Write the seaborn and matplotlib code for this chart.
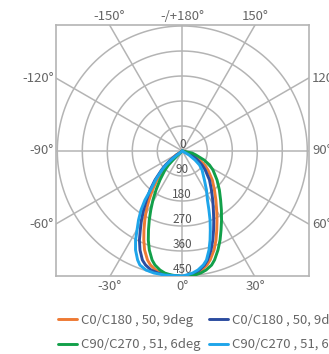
import numpy as np
import pandas as pd
import matplotlib
matplotlib.use("Agg")
import matplotlib.pyplot as plt
import seaborn as sns

sns.set_theme(style="white")
plt.rcParams['font.family'] = ['Noto Sans CJK SC', 'DejaVu Sans']

# ---- data (angle in degrees, 0 = downward; intensity in cd) ----
orange_ang = [-90, -57.6, -51.5, -48.5, -45.5, -41.1, -37.4, -34.2, -31.4, -28.5, -25.9, -23.4, -20.9, -17.7, -15.6,
              -12.7, -9.9, -6.6, 0, 4.0, 6.9, 9.4, 12.2, 14.3, 17.8, 20.7, 23.6, 26.7, 30.2, 34.4, 39.5, 46.0, 53.5,
              57.8, 62.4, 69.5, 73.4, 90]
orange_val = [0, 27, 52, 76, 97, 139, 177, 213, 249, 283, 316, 349, 381, 412, 426,
              439, 446, 449, 452, 447, 442, 434, 420, 405, 374, 343, 310, 278, 246, 214, 182, 150, 115,
              94, 70, 41, 25, 0]

blue_ang = [-90, -55.4, -52.7, -50.2, -47.6, -43.3, -39.6, -36.2, -33.3, -30.6, -28.0, -25.7, -23.1, -20.1, -17.9,
            -14.7, -11.3, -7.5, 0, 3.1, 5.9, 8.2, 11.0, 13.0, 16.2, 18.9, 21.6, 24.5, 27.8, 31.8, 36.8, 43.2, 50.4,
            54.6, 59.4, 67.6, 70.7, 90]
blue_val = [0, 25, 53, 79, 101, 143, 182, 218, 254, 289, 322, 356, 388, 418, 431,
            443, 448, 450, 451, 447, 442, 433, 418, 403, 371, 339, 306, 273, 240, 208, 175, 143, 107,
            87, 64, 38, 22, 0]

green_ang = [-90, -47.1, -45.9, -44.6, -42.3, -37.6, -34.0, -30.9, -28.1, -25.6, -23.2, -20.9, -18.4, -15.5, -13.5,
             -10.6, -8.1, -5.2, 0, 2.1, 5.8, 8.7, 11.3, 14.4, 16.5, 19.8, 23.0, 26.1, 29.6, 33.5, 38.0, 43.5, 50.1,
             58.2, 62.8, 67.5, 73.7, 78.3, 90]
green_val = [0, 21, 47, 71, 93, 132, 169, 206, 241, 275, 309, 343, 376, 407, 422,
             436, 444, 448, 452, 454, 449, 444, 437, 424, 409, 379, 348, 317, 286, 255, 224, 194, 163,
             130, 110, 85, 51, 36, 0]

cyan_ang = [-90, -53.0, -51.5, -49.3, -46.9, -42.7, -39.2, -37.3, -35.0, -32.4, -29.8, -27.7, -25.3, -22.3, -20.4,
            -17.0, -13.1, -7.9, 0, 1.7, 4.8, 7.5, 10.5, 12.5, 15.1, 17.3, 19.5, 21.9, 24.3, 27.2, 31.8, 37.4, 46.0,
            50.9, 54.7, 59.2, 90]
cyan_val = [0, 24, 52, 77, 100, 142, 181, 222, 259, 294, 328, 362, 394, 424, 438,
            448, 451, 451, 450, 447, 441, 432, 417, 402, 369, 336, 302, 268, 233, 198, 165, 131, 99,
            80, 56, 28, 0]

series_labels = ["C0/C180 , 50, 9deg", "C0/C180 , 50, 9deg",
                 "C90/C270 , 51, 6deg", "C90/C270 , 51, 6deg"]
series_colors = ["#ee7a34", "#2b4c9f", "#12a04a", "#1ea5ea"]

ring_values = [90, 180, 270, 360, 450]
ring_labels = ["0", "90", "180", "270", "360", "450"]
spoke_angles = list(range(-180, 180, 30))

top_labels = ["-150°", "-/+180°", "150°"]
side_left_labels = ["-120°", "-90°", "-60°"]
side_right_labels = ["120°", "90°", "60°"]
bottom_labels = ["-30°", "0°", "30°"]

# ---- figure ----
W, H = 329, 354
fig = plt.figure(figsize=(W / 100, H / 100), dpi=100)
px = 450 / 125.0  # data units per pixel
cx, cy = 182.3, 151.0
left_px, right_px, top_px, bot_px = 56, 309, 25, 276
ax = fig.add_axes([left_px / W, 1 - bot_px / H, (right_px - left_px) / W, (bot_px - top_px) / H])
xl = ((left_px - cx) * px, (right_px - cx) * px)
yl = (-(bot_px - cy) * px, (cy - top_px) * px)
ax.set_xlim(*xl)
ax.set_ylim(*yl)

grid_c = "#b4b4b4"
for s in ax.spines.values():
    s.set_color(grid_c)
    s.set_linewidth(1.2)
ax.set_xticks([])
ax.set_yticks([])

t = np.linspace(0, 2 * np.pi, 361)
for r in ring_values:
    ax.plot(r * np.cos(t), r * np.sin(t), color=grid_c, lw=1.1, zorder=1)
for a in spoke_angles:
    ar = np.deg2rad(a)
    ax.plot([0, 1200 * np.sin(ar)], [0, -1200 * np.cos(ar)], color=grid_c, lw=1.1, zorder=1)

# radial labels
for i, lab in enumerate(ring_labels):
    r = i * 90
    ax.text(0, -r + 22, lab, ha="center", va="center", fontsize=8.5, color="#555555", zorder=2)

# curves
handles = []
data_sets = [(orange_ang, orange_val), (blue_ang, blue_val), (green_ang, green_val), (cyan_ang, cyan_val)]
for (ang, val), lab, col in zip(data_sets, series_labels, series_colors):
    a = np.deg2rad(np.array(ang, dtype=float))
    v = np.array(val, dtype=float)
    df = pd.DataFrame({"x": v * np.sin(a), "y": -v * np.cos(a)})
    sns.lineplot(data=df, x="x", y="y", sort=False, estimator=None, color=col, lw=2.1, ax=ax, zorder=3,
                 solid_joinstyle="round", solid_capstyle="round")
    handles.append(plt.Line2D([], [], color=col, lw=2.1, label=lab))
ax.set_xlabel("")
ax.set_ylabel("")

# angle labels
lc = "#666666"
fs = 9.5
def fx(p):
    return p / W
def fy(p):
    return 1 - p / H
for lab, xp in zip(top_labels, [109.5, 182.3, 255]):
    fig.text(fx(xp), fy(16), lab, ha="center", va="center", fontsize=fs, color=lc)
for lab, yp in zip(side_left_labels, [78, 151, 224]):
    fig.text(fx(54), fy(yp), lab, ha="right", va="center", fontsize=fs, color=lc)
for lab, yp in zip(side_right_labels, [78, 151, 224]):
    fig.text(fx(312), fy(yp), lab, ha="left", va="center", fontsize=fs, color=lc)
for lab, xp in zip(bottom_labels, [110, 182.3, 255]):
    fig.text(fx(xp), fy(287), lab, ha="center", va="center", fontsize=fs, color=lc)

order = [handles[0], handles[2], handles[1], handles[3]]
leg = fig.legend(handles=order, labels=[h.get_label() for h in order], ncol=2,
                 loc="upper left", bbox_to_anchor=(fx(58), fy(314)), frameon=False,
                 fontsize=9.5, handlelength=1.45, handletextpad=0.3, columnspacing=0.6,
                 labelspacing=0.85, borderaxespad=0, borderpad=0)
for txt in leg.get_texts():
    txt.set_color(lc)

fig.savefig("out.png", dpi=100)
